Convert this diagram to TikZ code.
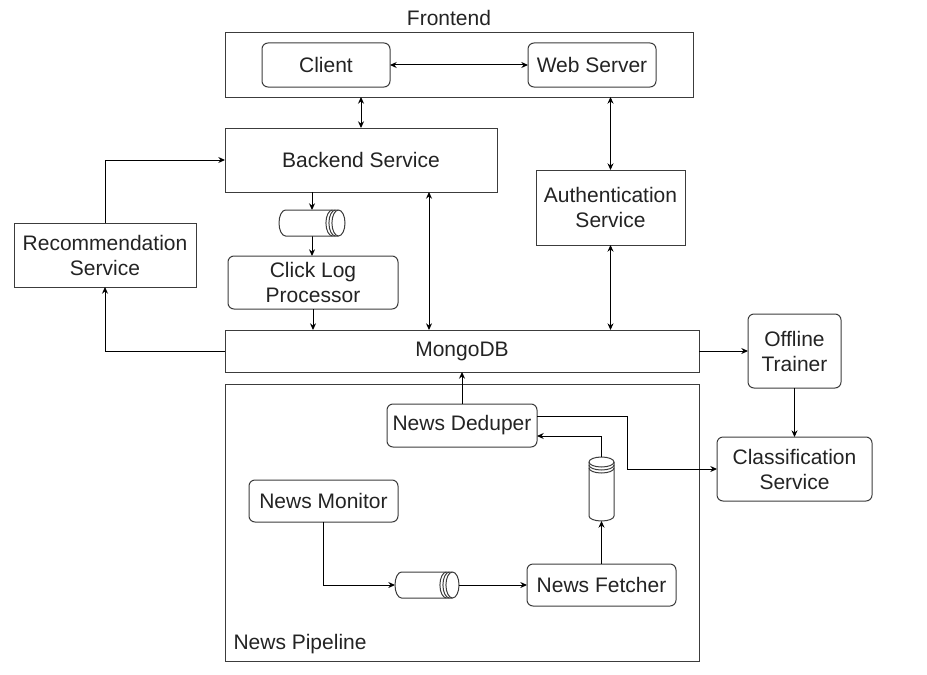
\documentclass[tikz,border=0pt]{standalone}
\usepackage{fontspec}
\setmainfont{Liberation Sans}
\usetikzlibrary{arrows.meta}
\definecolor{boxline}{RGB}{60,60,60}
\definecolor{textgray}{RGB}{35,35,35}

\tikzset{
  lbl/.style={inner sep=0pt, text=textgray, align=center, font=\fontsize{15.75}{18.75}\selectfont},
  box/.style={lbl, draw=boxline, line width=0.75pt, outer sep=0pt},
  rbox/.style={box, rounded corners=4.5pt},
  qnode/.style={inner sep=0pt, outer sep=0pt},
}

\begin{document}
\begin{tikzpicture}[x=0.75pt, y=-0.75pt, >={Stealth[length=5pt, width=4.5pt]}, line width=0.75pt]
\useasboundingbox (0,0) rectangle (927,674);

% Frontend
\node[box, minimum width=351pt, minimum height=48pt] (frontend) at (459,65) {};
\node[lbl] (frontlbl) at (449,18) {Frontend};
\node[rbox, minimum width=96pt, minimum height=33pt] (client) at (326,65) {Client};
\node[rbox, minimum width=96pt, minimum height=33pt] (websrv) at (592,65) {Web Server};
\draw[<->] (client) -- (websrv);

% Services
\node[box, minimum width=204pt, minimum height=48pt] (backend) at (361,160) {Backend Service};
\node[box, minimum width=111.75pt, minimum height=56.25pt] (authsvc) at (610.5,207.5) {Authentication\\Service};
\node[box, minimum width=136.5pt, minimum height=48pt] (recsvc) at (105,255) {Recommendation\\Service};
\draw[<->] (backend.north |- frontend.south) -- (backend.north);
\draw[<->] (authsvc.north |- frontend.south) -- (authsvc.north);

% Click log
\node[qnode, minimum width=49.5pt, minimum height=19.5pt] (queueA) at (312,223) {};
\node[rbox, minimum width=127.5pt, minimum height=39.75pt] (clicklog) at (313,282.5) {Click Log\\Processor};

% MongoDB
\node[box, minimum width=355.5pt, minimum height=31.5pt] (mongo) at (462,351) {MongoDB};
\coordinate (bkmg) at (429,0);
\draw[->] (queueA.north |- backend.south) -- (queueA.north);
\draw[->] (queueA.south) -- (queueA.south |- clicklog.north);
\draw[->] (clicklog.south) -- (clicklog.south |- mongo.north);
\draw[<->] (bkmg |- backend.south) -- (bkmg |- mongo.north);
\draw[<->] (authsvc.south) -- (authsvc.south |- mongo.north);
\draw[->] (recsvc.north) |- (backend.west);
\draw[->] (mongo.west) -| (recsvc.south);

% Trainer et classification
\node[rbox, minimum width=69.75pt, minimum height=55.5pt] (trainer) at (794.5,351) {Offline\\Trainer};
\node[rbox, minimum width=116.25pt, minimum height=48pt] (classif) at (794.5,469) {Classification\\Service};
\draw[->] (mongo.east) -- (trainer.west);
\draw[->] (trainer.south) -- (classif.north);

% News Pipeline
\node[box, minimum width=355.5pt, minimum height=207.75pt] (pipeline) at (462,522.5) {};
\node[lbl, anchor=west] (pipelbl) at (233,644) {News Pipeline};
\node[rbox, minimum width=112.5pt, minimum height=32.25pt] (deduper) at (462,425.5) {News Deduper};
\node[rbox, minimum width=111.75pt, minimum height=31.5pt] (monitor) at (323.5,501) {News Monitor};
\node[rbox, minimum width=111.75pt, minimum height=31.5pt] (fetcher) at (601.5,585) {News Fetcher};
\node[qnode, minimum width=48pt, minimum height=19.5pt] (queueB) at (427,585) {};
\node[qnode, minimum width=18.75pt, minimum height=48pt] (queueC) at (601.5,489) {};

% Files horizontales
\foreach \q in {queueA, queueB} {
  \draw[boxline] ([xshift=4.9pt]\q.north west) -- ([xshift=-4.9pt]\q.north east)
    arc[start angle=90, end angle=-90, x radius=4.9pt, y radius=9.75pt]
    -- ([xshift=4.9pt]\q.south west)
    arc[start angle=270, end angle=90, x radius=4.9pt, y radius=9.75pt];
  \foreach \k in {0,3,6}
    \draw[boxline] ([xshift=-4.9pt-\k*0.75pt]\q.north east) arc[start angle=90, end angle=270, x radius=4.9pt, y radius=9.75pt];
}
% File verticale
\draw[boxline] ([yshift=-3.75pt]queueC.north west) -- ([yshift=3.75pt]queueC.south west)
  arc[start angle=180, end angle=360, x radius=9.375pt, y radius=3.75pt]
  -- ([yshift=-3.75pt]queueC.north east)
  arc[start angle=0, end angle=180, x radius=9.375pt, y radius=3.75pt];
\foreach \k in {0,3,6}
  \draw[boxline] ([yshift=-3.75pt-\k*0.75pt]queueC.north west) arc[start angle=180, end angle=360, x radius=9.375pt, y radius=3.75pt];

\coordinate (ddbend) at (627,416);
\coordinate (fcbend) at (602,436);
\draw[->] (deduper.north) -- (deduper.north |- mongo.south);
\draw[->] (ddbend -| deduper.east) -- (ddbend) |- (classif.west);
\draw[->] (queueC.north) |- (fcbend -| deduper.east);
\draw[->] (fetcher.north) -- (queueC.south);
\draw[->] (monitor.south) |- (queueB.west);
\draw[->] (queueB.east) -- (fetcher.west);

\end{tikzpicture}
\end{document}
